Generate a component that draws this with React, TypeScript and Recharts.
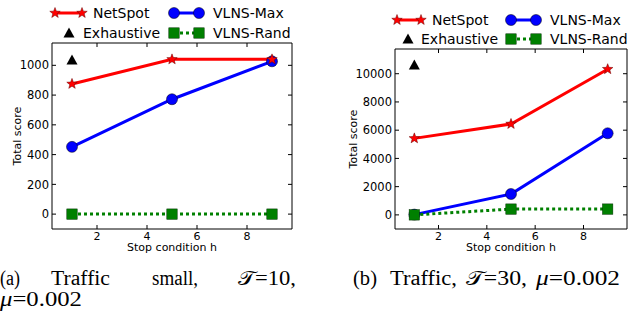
import React from 'react';
import { LineChart, Line, XAxis, YAxis, Legend } from 'recharts';

// stop condition h
const hValues = [1, 5, 9];
const xTicks = [2, 4, 6, 8];

// (a) Traffic small
const smallNetSpot = [875, 1040, 1040];
const smallVlnsMax = [452, 772, 1027];
const smallVlnsRand = [0, 0, 0];
const smallExhaustive = [1035, null, null];
const smallTicks = [0, 200, 400, 600, 800, 1000];

// (b) Traffic
const trafficNetSpot = [5420, 6440, 10320];
const trafficVlnsMax = [20, 1480, 5780];
const trafficVlnsRand = [0, 410, 410];
const trafficExhaustive = [10620, null, null];
const trafficTicks = [0, 2000, 4000, 6000, 8000, 10000];

const buildRows = (netspot: number[], vlnsMax: number[], vlnsRand: number[], exhaustive: (number | null)[]) =>
  hValues.map((h, i) => ({
    h,
    netspot: netspot[i],
    vlnsMax: vlnsMax[i],
    vlnsRand: vlnsRand[i],
    exhaustive: exhaustive[i],
  }));

const RED = '#ff0000';
const BLUE = '#0000ff';
const GREEN = '#008000';
const TICK_FONT = 'DejaVu Sans';

const Star = ({ cx, cy, r = 5.5 }: any) => {
  const pts: string[] = [];
  for (let i = 0; i < 10; i++) {
    const rad = i % 2 === 0 ? r : r * 0.42;
    const a = -Math.PI / 2 + (i * Math.PI) / 5;
    pts.push(`${cx + rad * Math.cos(a)},${cy + rad * Math.sin(a)}`);
  }
  return <polygon points={pts.join(' ')} fill={RED} stroke="#600" strokeWidth={0.5} />;
};
const Dot = ({ cx, cy }: any) => <circle cx={cx} cy={cy} r={5.5} fill={BLUE} stroke="#000" strokeWidth={0.5} />;
const Square = ({ cx, cy }: any) => (
  <rect x={cx - 5.2} y={cy - 5.2} width={10.4} height={10.4} fill={GREEN} stroke="#003000" strokeWidth={0.5} />
);
const Triangle = ({ cx, cy }: any) => (
  <polygon points={`${cx},${cy - 5.5} ${cx + 5.5},${cy + 4.5} ${cx - 5.5},${cy + 4.5}`} fill="#000" />
);

const dotOf = (Shape: any) => (p: any) =>
  p.cx == null || p.cy == null || p.value == null ? <g key={p.index} /> : <Shape key={p.index} cx={p.cx} cy={p.cy} />;

// inward tick marks, matplotlib style
const BottomTick = ({ x, y, payload }: any) => (
  <g>
    <line x1={x} x2={x} y1={y} y2={y - 4} stroke="#000" />
    <text x={x} y={y + 10.5} textAnchor="middle" fontSize={11} fontFamily={TICK_FONT} fill="#000">
      {payload.value}
    </text>
  </g>
);
const TopTick = ({ x, y }: any) => <line x1={x} x2={x} y1={y} y2={y + 4} stroke="#000" />;
const LeftTick = ({ x, y, payload }: any) => (
  <g>
    <line x1={x} x2={x + 4} y1={y} y2={y} stroke="#000" />
    <text x={x - 3} y={y} dy="0.36em" textAnchor="end" fontSize={11.5} fontFamily={TICK_FONT} fill="#000">
      {payload.value}
    </text>
  </g>
);
const RightTick = ({ x, y }: any) => <line x1={x} x2={x - 4} y1={y} y2={y} stroke="#000" />;

interface LegendLayout {
  row1: number;
  row2: number;
  lineIcon: [number, number];
  lineText: number;
  exhIcon: number;
  exhText: number;
  col2Icon: [number, number];
  col2Text: number;
}

function LegendBox({ width, l }: { width: number; l: LegendLayout }) {
  const txt = { fontSize: 14, fontFamily: TICK_FONT, fill: '#000', dominantBaseline: 'central' as const };
  return (
    <svg width={width} height={48} style={{ display: 'block' }}>
      <line x1={l.lineIcon[0]} x2={l.lineIcon[1]} y1={l.row1} y2={l.row1} stroke={RED} strokeWidth={3} />
      <Star cx={l.lineIcon[0]} cy={l.row1} />
      <Star cx={l.lineIcon[1]} cy={l.row1} />
      <text x={l.lineText} y={l.row1} {...txt}>NetSpot</text>

      <line x1={l.col2Icon[0]} x2={l.col2Icon[1]} y1={l.row1} y2={l.row1} stroke={BLUE} strokeWidth={3} />
      <Dot cx={l.col2Icon[0]} cy={l.row1} />
      <Dot cx={l.col2Icon[1]} cy={l.row1} />
      <text x={l.col2Text} y={l.row1} {...txt}>VLNS-Max</text>

      <Triangle cx={l.exhIcon} cy={l.row2} />
      <text x={l.exhText} y={l.row2} {...txt}>Exhaustive</text>

      <line x1={l.col2Icon[0]} x2={l.col2Icon[1]} y1={l.row2} y2={l.row2} stroke={GREEN} strokeWidth={3} strokeDasharray="3 3" />
      <Square cx={l.col2Icon[0]} cy={l.row2} />
      <Square cx={l.col2Icon[1]} cy={l.row2} />
      <text x={l.col2Text} y={l.row2} {...txt}>VLNS-Rand</text>
    </svg>
  );
}

interface PanelProps {
  rows: any[];
  width: number;
  top: number;
  yWidth: number;
  right: number;
  yDomain: [number, number];
  yTicks: number[];
  yLabelX: number;
  legend: LegendLayout;
}

function Panel({ rows, width, top, yWidth, right, yDomain, yTicks, yLabelX, legend }: PanelProps) {
  return (
    <LineChart width={width} height={260} data={rows} margin={{ top, right, left: 0, bottom: 0 }}>
      <XAxis
        xAxisId="bottom"
        dataKey="h"
        type="number"
        domain={[0.2, 9.8]}
        ticks={xTicks}
        allowDataOverflow
        height={31}
        tickSize={0}
        tickMargin={0}
        tickLine={false}
        tick={<BottomTick />}
        axisLine={{ stroke: '#000' }}
        label={{
          content: ({ viewBox }: any) => (
            <text
              x={viewBox.x + viewBox.width / 2}
              y={viewBox.y + 22}
              textAnchor="middle"
              fontSize={11}
              fontFamily={TICK_FONT}
              fill="#000"
            >
              Stop condition h
            </text>
          ),
        }}
      />
      <XAxis
        xAxisId="top"
        orientation="top"
        dataKey="h"
        type="number"
        domain={[0.2, 9.8]}
        ticks={xTicks}
        allowDataOverflow
        height={1}
        tickSize={0}
        tickMargin={0}
        tickLine={false}
        tick={<TopTick />}
        axisLine={{ stroke: '#000' }}
      />
      <YAxis
        yAxisId="left"
        type="number"
        domain={yDomain}
        ticks={yTicks}
        allowDataOverflow
        width={yWidth}
        tickSize={0}
        tickMargin={0}
        tickLine={false}
        tick={<LeftTick />}
        axisLine={{ stroke: '#000' }}
        label={{
          content: ({ viewBox }: any) => {
            const cy = viewBox.y + viewBox.height / 2;
            return (
              <text
                x={yLabelX}
                y={cy}
                transform={`rotate(-90 ${yLabelX} ${cy})`}
                textAnchor="middle"
                dominantBaseline="central"
                fontSize={11}
                fontFamily={TICK_FONT}
                fill="#000"
              >
                Total score
              </text>
            );
          },
        }}
      />
      <YAxis
        yAxisId="right"
        orientation="right"
        type="number"
        domain={yDomain}
        ticks={yTicks}
        allowDataOverflow
        width={1}
        tickSize={0}
        tickMargin={0}
        tickLine={false}
        tick={<RightTick />}
        axisLine={{ stroke: '#000' }}
      />
      <Legend
        layout="horizontal"
        verticalAlign="middle"
        align="center"
        wrapperStyle={{ left: 0, top: 0, width, height: 48 }}
        content={() => <LegendBox width={width} l={legend} />}
      />
      <Line xAxisId="bottom" yAxisId="left" dataKey="vlnsMax" name="VLNS-Max" stroke={BLUE} strokeWidth={3} dot={dotOf(Dot)} isAnimationActive={false} />
      <Line xAxisId="bottom" yAxisId="left" dataKey="netspot" name="NetSpot" stroke={RED} strokeWidth={3} dot={dotOf(Star)} isAnimationActive={false} />
      <Line xAxisId="bottom" yAxisId="left" dataKey="vlnsRand" name="VLNS-Rand" stroke={GREEN} strokeWidth={3} strokeDasharray="3 3" dot={dotOf(Square)} isAnimationActive={false} />
      <Line xAxisId="bottom" yAxisId="left" dataKey="exhaustive" name="Exhaustive" stroke="none" dot={dotOf(Triangle)} connectNulls={false} isAnimationActive={false} />
    </LineChart>
  );
}

const legendA: LegendLayout = {
  row1: 13, row2: 33, lineIcon: [55, 82], lineText: 93, exhIcon: 69, exhText: 83, col2Icon: [174, 199], col2Text: 213,
};
const legendB: LegendLayout = {
  row1: 20, row2: 39, lineIcon: [83, 107], lineText: 118, exhIcon: 94, exhText: 107, col2Icon: [197, 222], col2Text: 236,
};

const capStyle = { fontFamily: 'Liberation Serif', fontSize: 20, fill: '#000' };

export default function App() {
  return (
    <div style={{ position: 'absolute', left: 0, top: 0, width: 628, height: 313, overflow: 'hidden', background: '#fff' }}>
      <div style={{ position: 'absolute', left: 0, top: 0 }}>
        <Panel
          rows={buildRows(smallNetSpot, smallVlnsMax, smallVlnsRand, smallExhaustive)}
          width={314}
          top={42}
          yWidth={52}
          right={21}
          yDomain={[-100, 1150]}
          yTicks={smallTicks}
          yLabelX={17}
          legend={legendA}
        />
      </div>
      <div style={{ position: 'absolute', left: 314, top: 0 }}>
        <Panel
          rows={buildRows(trafficNetSpot, trafficVlnsMax, trafficVlnsRand, trafficExhaustive)}
          width={314}
          top={48}
          yWidth={81}
          right={0}
          yDomain={[-1000, 11750]}
          yTicks={trafficTicks}
          yLabelX={39}
          legend={legendB}
        />
      </div>
      <svg width={628} height={313} style={{ position: 'absolute', left: 0, top: 0, pointerEvents: 'none' }}>
        <text x={0} y={285} textLength={20} lengthAdjust="spacingAndGlyphs" {...capStyle}>(a)</text>
        <text x={51} y={285} textLength={59} lengthAdjust="spacingAndGlyphs" {...capStyle}>Traffic</text>
        <text x={152} y={285} textLength={46} lengthAdjust="spacingAndGlyphs" {...capStyle}>small,</text>
        <text x={238} y={285} textLength={58} lengthAdjust="spacingAndGlyphs" {...capStyle}>𝒯=10,</text>
        <text x={0} y={306} textLength={82} lengthAdjust="spacingAndGlyphs" {...capStyle}>
          <tspan fontStyle="italic">μ</tspan>=0.002
        </text>

        <text x={353} y={285} textLength={24} lengthAdjust="spacingAndGlyphs" {...capStyle}>(b)</text>
        <text x={390} y={285} textLength={67} lengthAdjust="spacingAndGlyphs" {...capStyle}>Traffic,</text>
        <text x={466} y={285} textLength={61} lengthAdjust="spacingAndGlyphs" {...capStyle}>𝒯=30,</text>
        <text x={536} y={285} textLength={84} lengthAdjust="spacingAndGlyphs" {...capStyle}>
          <tspan fontStyle="italic">μ</tspan>=0.002
        </text>
      </svg>
    </div>
  );
}
